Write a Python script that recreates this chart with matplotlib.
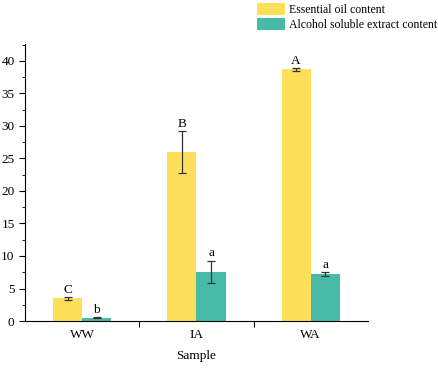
import matplotlib
matplotlib.use('Agg')
import matplotlib.pyplot as plt
import numpy as np

# Data
samples = ["WW", "IA", "WA"]
oil = [3.5, 26.0, 38.7]
oil_err = [0.2, 3.2, 0.2]
alcohol = [0.5, 7.55, 7.2]
alcohol_err = [0.1, 1.75, 0.35]
oil_letters = ["C", "B", "A"]
alcohol_letters = ["b", "a", "a"]

plt.rcParams['font.family'] = ['Liberation Serif', 'DejaVu Serif']
plt.rcParams['font.size'] = 8.5

fig = plt.figure(figsize=(4.39, 3.69), dpi=100)
ax = fig.add_axes([0.057, 0.130, 0.781, 0.751])

x = np.arange(1, len(samples) + 1)
w = 0.255
yellow = "#fddf5a"
teal = "#48bba8"

b1 = ax.bar(x - w / 2, oil, w, color=yellow, edgecolor="none", label="Essential oil content")
b2 = ax.bar(x + w / 2, alcohol, w, color=teal, edgecolor="none", label="Alcohol soluble extract content")
ax.errorbar(x - w / 2, oil, yerr=oil_err, fmt="none", ecolor="#333333", elinewidth=0.9, capsize=3, capthick=0.9)
ax.errorbar(x + w / 2, alcohol, yerr=alcohol_err, fmt="none", ecolor="#333333", elinewidth=0.9, capsize=3, capthick=0.9)

for xi, v, e, t in zip(x - w / 2, oil, oil_err, oil_letters):
    ax.text(xi, v + e + 0.2, t, ha="center", va="bottom", fontsize=9.5)
for xi, v, e, t in zip(x + w / 2, alcohol, alcohol_err, alcohol_letters):
    ax.text(xi, v + e + 0.2, t, ha="center", va="bottom", fontsize=9.5)

ax.set_xlim(0.5, 3.5)
ax.set_ylim(0, 42.6)
ax.set_yticks([0, 5, 10, 15, 20, 25, 30, 35, 40])
ax.set_yticks(np.arange(2.5, 42.6, 5), minor=True)
ax.set_xticks([1.5, 2.5])
ax.set_xticklabels([])
ax.set_xticks(x, minor=True)
ax.set_xticklabels(samples, minor=True, fontsize=9.5)
ax.tick_params(axis="x", which="minor", length=0, pad=6)
ax.tick_params(axis="x", which="major", length=4)
ax.tick_params(axis="y", which="major", length=4, labelsize=9.5)
ax.tick_params(axis="y", which="minor", length=2.5)
ax.spines["top"].set_visible(False)
ax.spines["right"].set_visible(False)
ax.set_xlabel("Sample", labelpad=6, fontsize=9.5)

fig.legend(handles=[b1, b2], loc="upper left", bbox_to_anchor=(0.569, 1.01), frameon=False,
           handlelength=2.4, handleheight=1.2, handletextpad=0.3, labelspacing=0.12, borderaxespad=0.2)

fig.savefig("out.png", dpi=100)
